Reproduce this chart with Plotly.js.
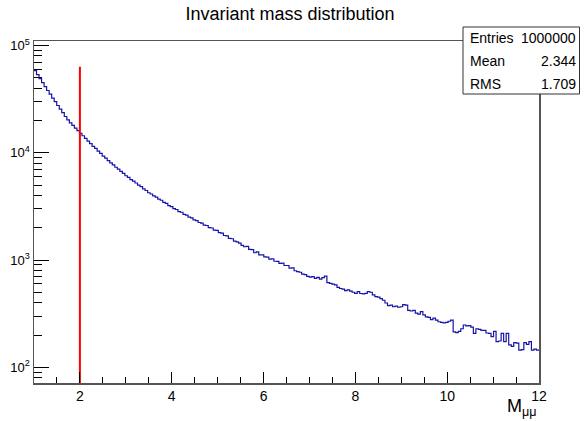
<!DOCTYPE html>
<html>
<head>
<meta charset="utf-8">
<script src="https://cdn.plot.ly/plotly-3.0.1.min.js"></script>
<style>html,body{margin:0;padding:0;background:#fff;}#chart{width:584px;height:421px;}</style>
</head>
<body>
<div id="chart"></div>
<script>
// Histogram definition (200 bins from 1 to 12)
const binLow = 1;
const binHigh = 12;
const counts = [
  58420, 53510, 49180, 45020, 41460, 38070, 35230, 32380, 29960, 27580,
  25480, 23650, 21790, 20230, 18980, 18040, 16980, 16110, 15170, 14420,
  13640, 12850, 12190, 11490, 10970, 10350, 9870, 9300, 8910, 8440,
  8060, 7730, 7330, 7050, 6700, 6430, 6110, 5910, 5630, 5450,
  5230, 4990, 4830, 4600, 4450, 4240, 4130, 3960, 3860, 3700,
  3610, 3450, 3370, 3210, 3150, 3010, 2960, 2830, 2790, 2670,
  2620, 2510, 2470, 2370, 2330, 2240, 2210, 2120, 2100, 2010,
  1990, 1905, 1890, 1800, 1785, 1695, 1680, 1590, 1580, 1500,
  1480, 1440, 1370, 1330, 1340, 1260, 1250, 1170, 1190, 1120,
  1120, 1070, 1065, 1020, 1025, 975, 972, 930, 935, 890,
  890, 842, 846, 795, 781, 770, 738, 731, 705,
  692, 700, 676, 689, 664, 685, 708, 617, 605, 596,
  586, 556, 543, 537, 519, 527, 513, 501, 490, 507,
  488, 484, 490, 507, 501, 473, 457, 452, 437, 422,
  398, 376, 380, 367, 372, 363, 367, 385, 380, 339,
  335, 339, 320, 313, 331, 309, 295, 292, 279, 288,
  275, 266, 263, 260, 263, 269, 275, 214, 211, 216,
  229, 248, 243, 245, 237, 207, 229, 226, 221, 221,
  209, 207, 193, 216, 174, 176, 207, 174, 207, 162,
  157, 170, 168, 145, 146, 170, 164, 174, 145, 148, 145
];

// Cut line
const cutX = 2;
const cutTop = 63400;

// Stats box
const statLabels = ["Entries", "Mean", "RMS"];
const statValues = ["1000000", "2.344", "1.709"];

// Axis ticks
const xTickVals = [2, 4, 6, 8, 10, 12];
const yTickVals = [100, 1000, 10000, 100000];
const yMinorVals = [80, 90, 200, 300, 400, 500, 600, 700, 800, 900,
  2000, 3000, 4000, 5000, 6000, 7000, 8000, 9000,
  20000, 30000, 40000, 50000, 60000, 70000, 80000, 90000];

const yLogRange = [1.854, 5.042];

const nb = counts.length;
const bw = (binHigh - binLow) / nb;
const edges = [];
for (let i = 0; i <= nb; i++) edges.push(binLow + i * bw);
const yStep = counts.concat([counts[nb - 1]]);

const FONT = "Liberation Sans, Arial, Helvetica, sans-serif";

const traces = [
  {
    x: edges, y: yStep, type: "scatter", mode: "lines",
    line: {shape: "hv", color: "#1414a8", width: 1.2},
    hoverinfo: "skip", showlegend: false
  },
  {
    x: [cutX, cutX], y: [Math.pow(10, yLogRange[0]), cutTop], type: "scatter", mode: "lines",
    line: {color: "#ff0000", width: 2},
    hoverinfo: "skip", showlegend: false
  }
];

// paper coordinate helpers based on plot box
const L = 34, R = 539, T = 41, B = 383;
const px = v => (v - L) / (R - L);
const py = v => (B - v) / (B - T);

const annotations = [];
const rowY = [38.3, 61, 83.7];
for (let i = 0; i < statLabels.length; i++) {
  annotations.push({xref: "paper", yref: "paper", x: px(468), y: py(rowY[i]), xanchor: "left", yanchor: "middle",
    text: statLabels[i], showarrow: false, font: {family: FONT, size: 14, color: "#000"}});
  annotations.push({xref: "paper", yref: "paper", x: px(578), y: py(rowY[i]), xanchor: "right", yanchor: "middle",
    text: statValues[i], showarrow: false, font: {family: FONT, size: 14, color: "#000"}});
}
annotations.push({xref: "paper", yref: "paper", x: px(539), y: py(407), xanchor: "right", yanchor: "middle",
  text: "M<sub>μμ</sub>", showarrow: false, font: {family: FONT, size: 18, color: "#000"}});

const layout = {
  width: 584, height: 421,
  margin: {l: L, r: 584 - R, t: T, b: 421 - B, pad: 0},
  paper_bgcolor: "#fff", plot_bgcolor: "#fff",
  title: {text: "Invariant mass distribution", x: 0.4966, xref: "container", y: 1 - 14 / 421, yref: "container",
    xanchor: "center", yanchor: "middle", font: {family: FONT, size: 18, color: "#000"}},
  xaxis: {
    range: [binLow, binHigh], showgrid: false, zeroline: false,
    showline: true, mirror: true, linecolor: "#555", linewidth: 1.5,
    ticks: "inside", ticklen: 11, tickwidth: 1, tickcolor: "#000",
    tickmode: "array", tickvals: xTickVals, ticktext: xTickVals.map(String),
    tickfont: {family: FONT, size: 14, color: "#000"},
    minor: {ticks: "inside", ticklen: 6, tickwidth: 1, tickcolor: "#000", dtick: 0.5, tick0: 0, showgrid: false}
  },
  yaxis: {
    type: "log", range: yLogRange, showgrid: false, zeroline: false,
    showline: true, mirror: true, linecolor: "#555", linewidth: 1.5,
    ticks: "inside", ticklen: 15, tickwidth: 1, tickcolor: "#000",
    tickmode: "array", tickvals: yTickVals,
    ticktext: ["10<sup>2</sup>", "10<sup>3</sup>", "10<sup>4</sup>", "10<sup>5</sup>"],
    tickfont: {family: FONT, size: 13, color: "#000"},
    minor: {ticks: "inside", ticklen: 8, tickwidth: 1, tickcolor: "#000", tickmode: "array", tickvals: yMinorVals, showgrid: false}
  },
  shapes: [{
    type: "rect", xref: "paper", yref: "paper", layer: "above",
    x0: px(463), x1: px(579.5), y0: py(94), y1: py(27),
    fillcolor: "#fff", line: {color: "#333", width: 1}
  }],
  annotations: annotations,
  showlegend: false
};

Plotly.newPlot("chart", traces, layout, {staticPlot: true, displayModeBar: false});
</script>
</body>
</html>
